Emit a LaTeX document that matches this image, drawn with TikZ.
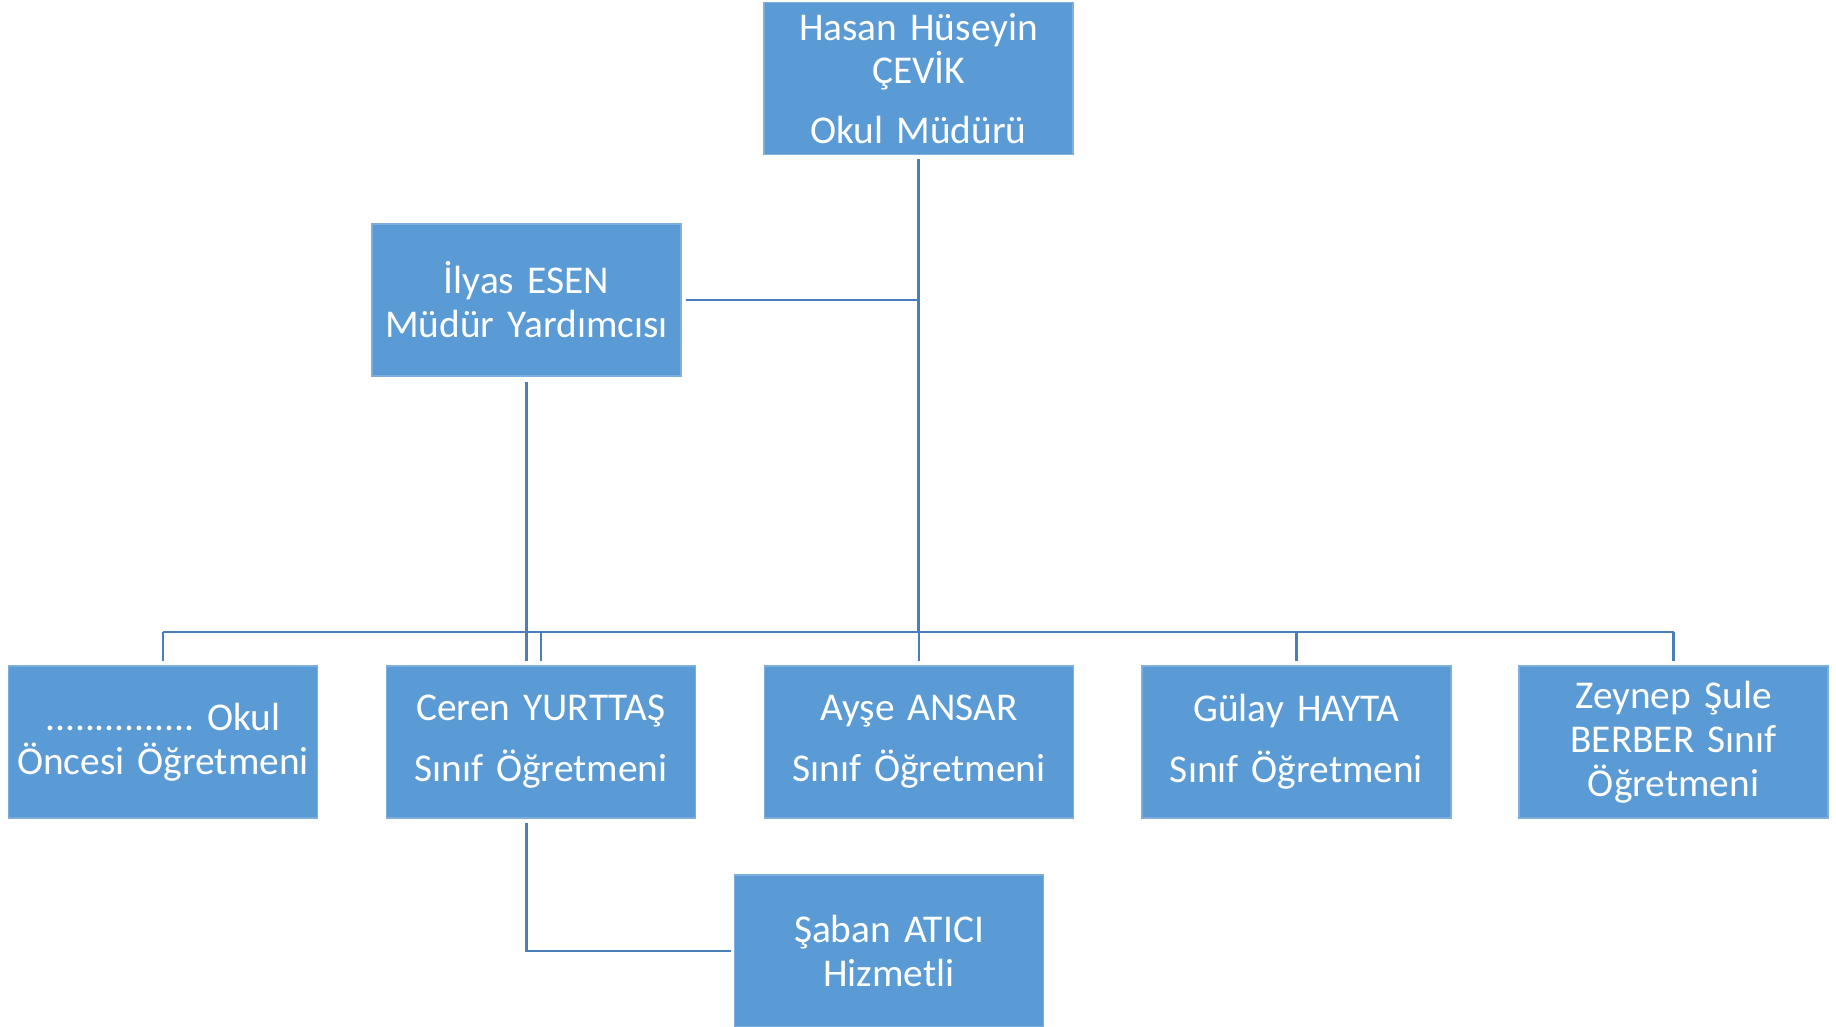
\documentclass[tikz,border=0pt]{standalone}
\usepackage{fontspec}
\setmainfont{Carlito}
\usetikzlibrary{calc}
\definecolor{boxblue}{HTML}{5B9BD5}
\definecolor{lineblue}{HTML}{4A7EBB}

\begin{document}
\begin{tikzpicture}[x=0.1mm, y=-0.1mm,
  person/.style={fill=boxblue, draw=boxblue!80!white, line width=0.3pt, text=white,
    minimum width=30.9mm, minimum height=15.2mm, text width=30mm, align=center,
    inner sep=0pt, font=\fontsize{11.2pt}{12.5pt}\selectfont},
  link/.style={draw=lineblue, line width=0.7pt}]
\useasboundingbox (0,0) rectangle (1836,1026);

% boxes
\node[person] (hasan) at (918.5,78.5) {Hasan Hüseyin\\ÇEVİK\\[4.5pt]Okul Müdürü};
\node[person] (ilyas) at (526.5,300) {İlyas ESEN\\Müdür Yardımcısı};

\node[person] (okul)   at (163,742)    {...............~Okul\\Öncesi Öğretmeni};
\node[person] (ceren)  at (541,742)    {Ceren YURTTAŞ\\[4.8pt]Sınıf Öğretmeni};
\node[person] (ayse)   at (919,742)    {Ayşe ANSAR\\[4.8pt]Sınıf Öğretmeni};
\node[person] (gulay)  at (1296.5,742) {Gülay HAYTA\\[4.8pt]Sınıf Öğretmeni};
\node[person] (zeynep) at (1673.5,742) {Zeynep Şule\\BERBER Sınıf\\Öğretmeni};

\node[person] (saban) at (889,951) {Şaban ATICI\\Hizmetli};

\coordinate (bus) at (918,632);

% lines
\draw[link, shorten <=0.4mm] (hasan.south) -- (hasan.south |- bus);
\draw[link, shorten <=0.4mm] (ilyas.east) -- (ilyas.east -| hasan.south);
\draw[link] (okul.north |- bus) -- (zeynep.north |- bus);
\foreach \n in {okul,ceren,ayse,gulay,zeynep}
  \draw[link, shorten >=0.4mm] (\n.north |- bus) -- (\n.north);
\draw[link, shorten <=0.5mm, shorten >=0.4mm] (ilyas.south) -- (ilyas.south |- ceren.north);
\draw[link, shorten <=0.4mm, shorten >=0.3mm] (ilyas.south |- ceren.south) -- (ilyas.south |- saban.west) -- (saban.west);
\end{tikzpicture}
\end{document}
